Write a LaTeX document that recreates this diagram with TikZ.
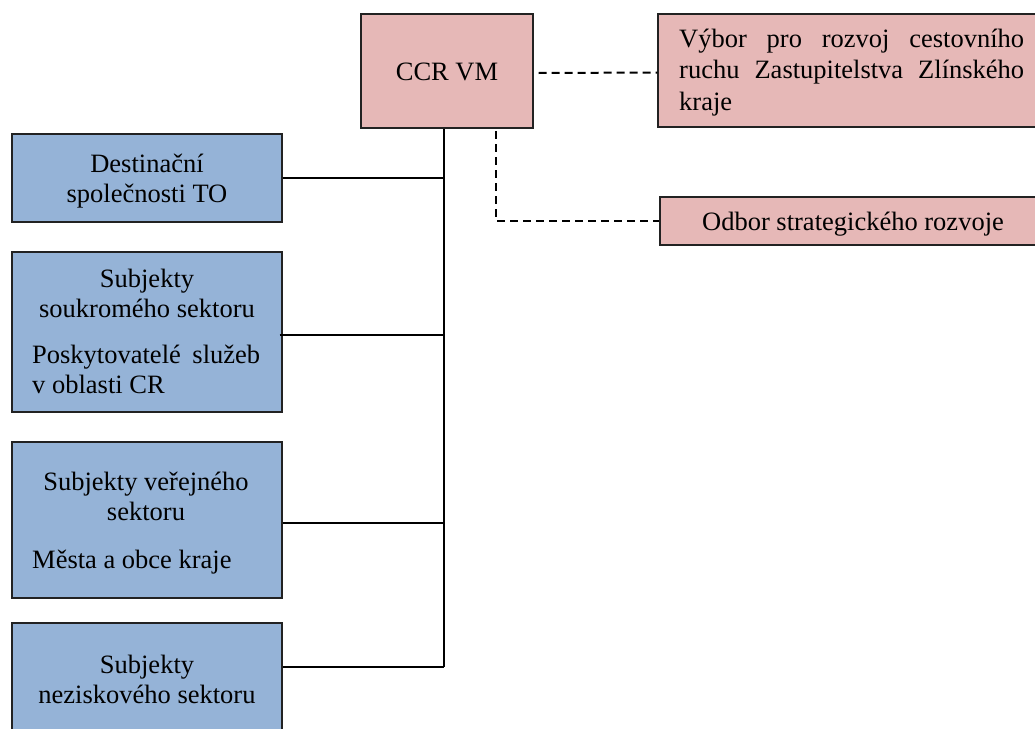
\documentclass[tikz,border=0pt]{standalone}
\usepackage{fontspec}
\setmainfont{Liberation Serif}
\definecolor{pinkfill}{HTML}{E6B8B7}
\definecolor{bluefill}{HTML}{95B3D7}
\definecolor{edge}{HTML}{222222}
\begin{document}
\begin{tikzpicture}[x=1pt,y=-1pt,
  box/.style={draw=edge, line width=1.3pt, inner sep=0pt},
  pinkbox/.style={box, fill=pinkfill},
  bluebox/.style={box, fill=bluefill},
  txt/.style={inner sep=0pt, font=\fontsize{26.5}{30}\selectfont, text=black},
  conn/.style={line width=2pt, black},
  dconn/.style={line width=2pt, black, dash pattern=on 8pt off 5pt}]
\useasboundingbox (0,0) rectangle (1035,728);
\clip (0,0) rectangle (1035,728);
% boxes
\node[pinkbox, minimum width=172pt, minimum height=114pt] (ccr) at (447,71) {};
\node[pinkbox, minimum width=382pt, minimum height=113pt] (vybor) at (849,70.5) {};
\node[pinkbox, minimum width=380pt, minimum height=48pt] (odbor) at (850,221) {};
\node[bluebox, minimum width=270pt, minimum height=88pt] (dest) at (147,178) {};
\node[bluebox, minimum width=270pt, minimum height=160pt] (souk) at (147,332) {};
\node[bluebox, minimum width=270pt, minimum height=156pt] (verej) at (147,520) {};
\node[bluebox, minimum width=270pt, minimum height=112pt] (nezisk) at (147,679) {};
% texts (anchor base = baseline of the last line)
\node[txt, anchor=base] (ccrt) at (447,80) {CCR VM};
\node[txt, anchor=base west, align=left, font=\fontsize{26.5}{31.5}\selectfont] (vybort) at (679,110)
  {\makebox[345pt][s]{Výbor pro rozvoj cestovního}\\\makebox[345pt][s]{ruchu Zastupitelstva Zlínského}\\kraje};
\node[txt, anchor=base] (odbort) at (853,230) {Odbor strategického rozvoje};
\node[txt, anchor=base, align=center] (destt) at (147,202) {Destinační\\společnosti TO};
\node[txt, anchor=base, align=center] (soukt) at (147,317) {Subjekty\\soukromého sektoru};
\node[txt, anchor=base west, align=left] (soukt2) at (32,393) {\makebox[228pt][s]{Poskytovatelé služeb}\\v oblasti CR};
\node[txt, anchor=base, align=center] (verejt) at (146,520) {Subjekty veřejného\\sektoru};
\node[txt, anchor=base west] (verejt2) at (32,568) {Města a obce kraje};
\node[txt, anchor=base, align=center] (neziskt) at (147,703) {Subjekty\\neziskového sektoru};
% connectors
\coordinate (tb) at (444,667);
\coordinate (dd) at (496,131);
\draw[conn] (ccr.south -| tb) -- (tb);
\draw[conn] (dest.east) -- (dest.east -| tb);
\draw[conn] ([xshift=-3pt]souk.east |- 0,335) -- (tb |- 0,335);
\draw[conn] (verej.east |- 0,523) -- (tb |- 0,523);
\draw[conn] (nezisk.east |- tb) -- (tb);
\draw[dconn] ([xshift=5pt,yshift=-2pt]ccr.east) -- ([yshift=-2pt]vybor.west);
\draw[dconn] (dd) |- (odbor.west);
\end{tikzpicture}
\end{document}
